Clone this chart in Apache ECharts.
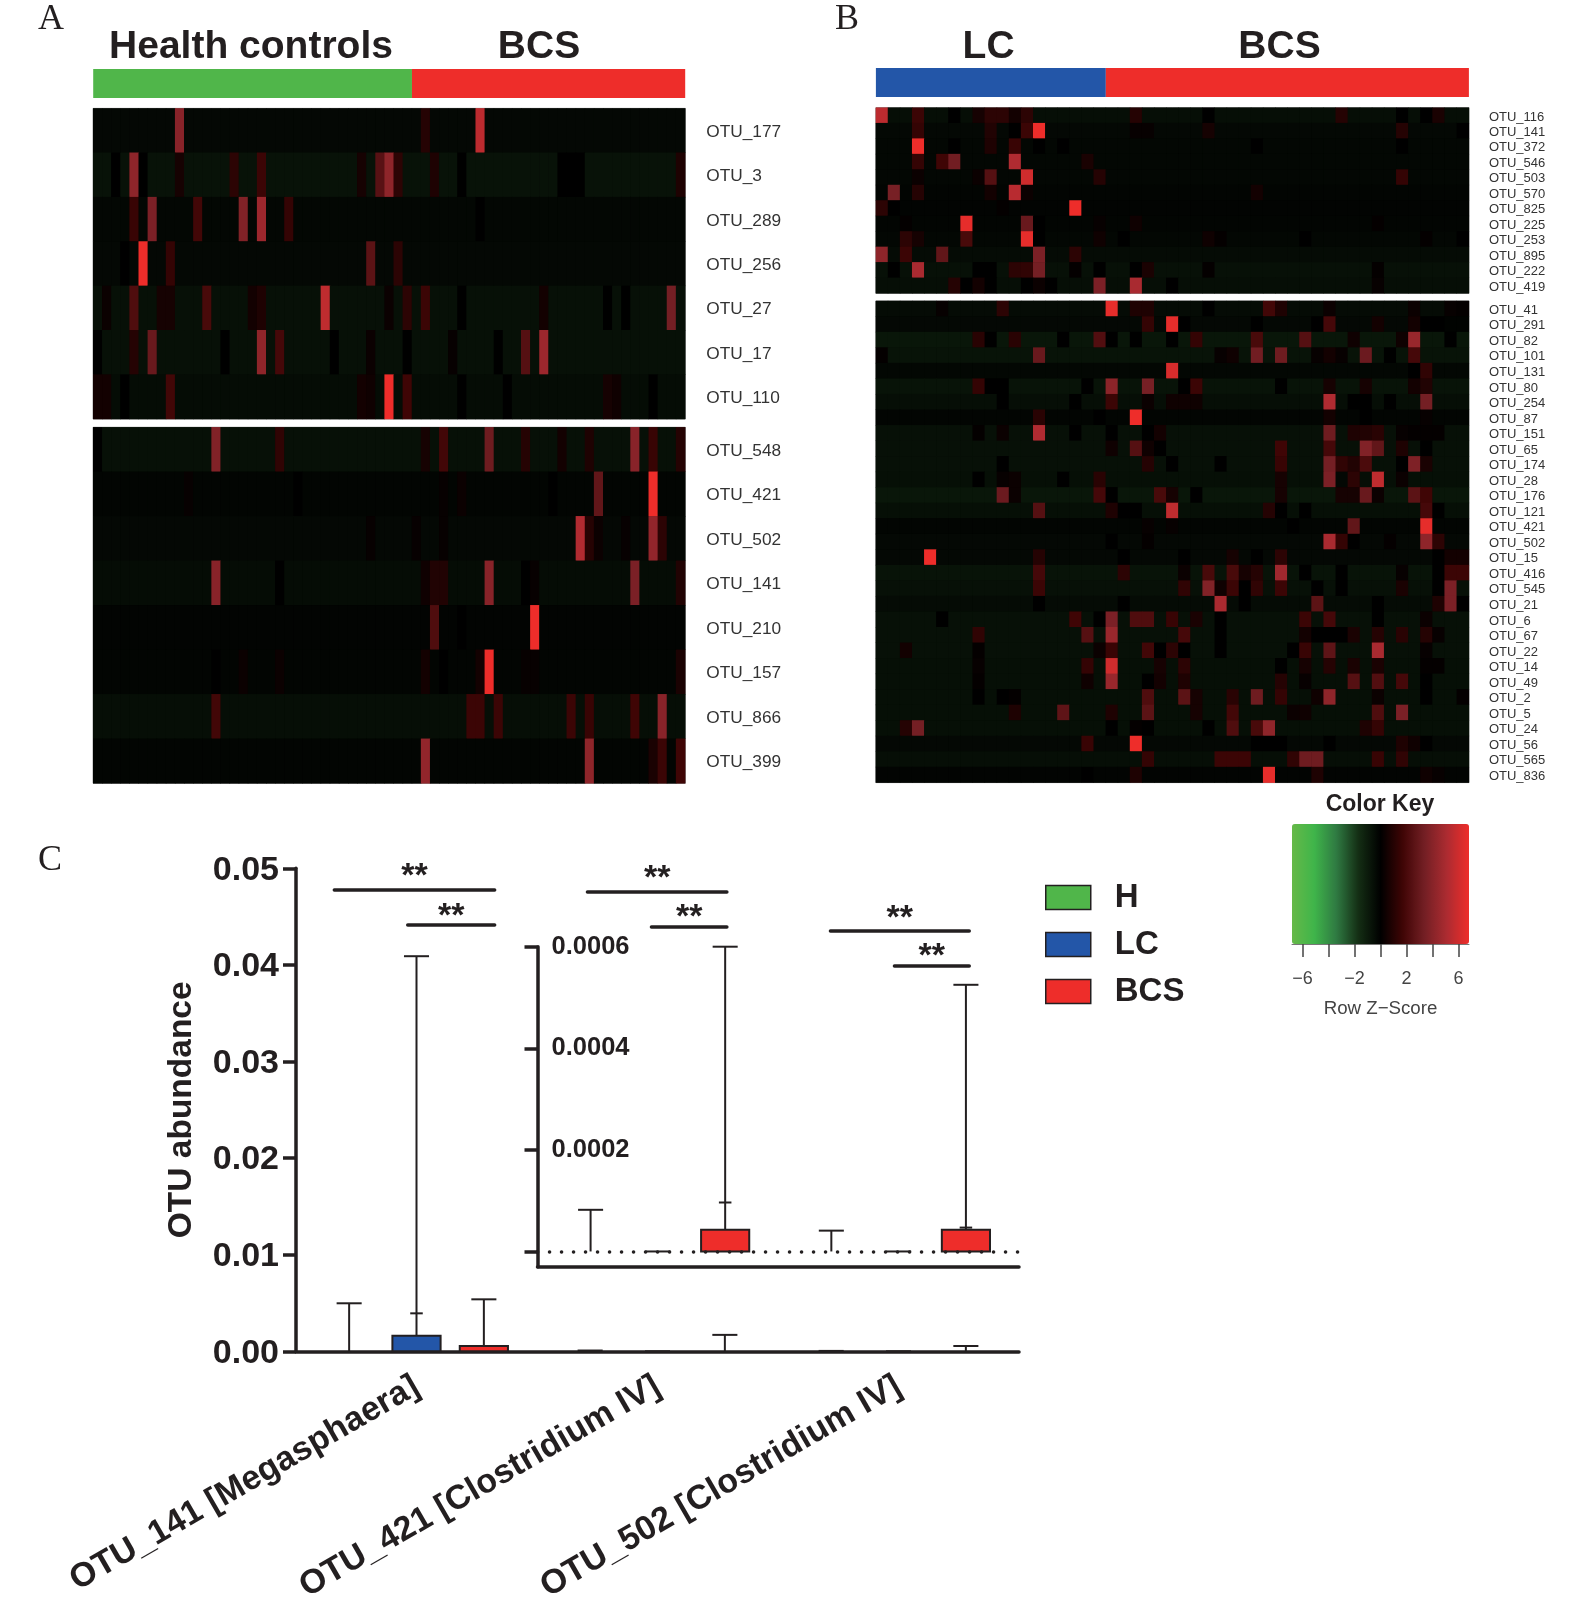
<!DOCTYPE html>
<html>
<head>
<meta charset="utf-8">
<style>
  html, body { margin: 0; background: #fff; }
  #chart { width: 1583px; height: 1606px; }
</style>
<script src="https://cdn.jsdelivr.net/npm/echarts@6/dist/echarts.min.js"></script>
</head>
<body>
<div id="chart"></div>
<script>
// row z-scores: one background level per row, then the cells that differ from it as [column, z]
const upperALabels = ['OTU_177', 'OTU_3', 'OTU_289', 'OTU_256', 'OTU_27', 'OTU_17', 'OTU_110'];
const upperABase = [-0.3, -0.65, -0.25, -0.3, -0.6, -0.6, -0.45];
const upperACells = [
  [[9,4],[36,1],[42,5.5]],
  [[4,4.2],[31,2.5],[32,4.2],[2,0],[5,0],[15,1.2],[18,1.6],[9,0.6],[29,0.6],[33,1.2],[37,0.8],[40,0],[51,0],[52,0],[53,0],[64,0.8]],
  [[4,1.5],[6,3.6],[11,1.8],[16,3.8],[18,4.6],[21,1.4],[42,0]],
  [[5,6.8],[8,1.4],[30,2.6],[33,1.2],[3,0]],
  [[4,2.2],[12,2],[25,5.6],[36,1.6],[34,1.2],[63,3.4],[7,0.6],[8,0.6],[17,0.5],[18,0.8],[32,0.3],[40,0],[49,0.5],[56,0],[58,0],[1,0.3]],
  [[6,3],[4,1],[18,4.2],[20,1.9],[47,2.4],[49,4.6],[14,0],[26,0],[44,0],[39,0.2],[30,0.3],[34,0],[0,0]],
  [[8,1.8],[32,6.8],[34,1.7],[0,0.5],[1,0.5],[29,0.5],[30,0.4],[56,0.6],[57,0.4],[40,0],[61,0],[3,0],[45,0]]
];
const lowerALabels = ['OTU_548', 'OTU_421', 'OTU_502', 'OTU_141', 'OTU_210', 'OTU_157', 'OTU_866', 'OTU_399'];
const lowerABase = [-0.6, -0.2, -0.3, -0.45, -0.15, -0.2, -0.5, -0.2];
const lowerACells = [
  [[13,3.8],[20,1.3],[36,0.6],[38,1.8],[43,3.2],[47,1],[51,0.5],[54,0.8],[59,4],[61,1.5],[64,1],[0,0]],
  [[10,0.2],[22,0],[38,0.2],[40,0.3],[55,2.8],[61,6.8],[50,0]],
  [[53,5.2],[54,1],[55,0.3],[61,4.3],[62,1.2],[30,0.2],[35,0.2],[38,0.2],[58,0.2]],
  [[13,4],[20,0],[36,0.4],[37,0.9],[38,0.9],[43,4],[47,0],[48,0.2],[59,3.6],[64,0.9]],
  [[37,2.2],[48,6.8],[40,0]],
  [[43,6.8],[36,0.5],[42,0.5],[16,0.3],[20,0.3],[13,0],[38,0],[47,0.2],[48,0.2],[64,0.7]],
  [[13,1.8],[41,1.6],[42,1.6],[44,1.6],[52,1.6],[54,1.5],[59,1.7],[62,4]],
  [[36,4.3],[54,4.2],[61,0.7],[62,1.6],[64,1.7]]
];
const upperBLabels = ['OTU_116', 'OTU_141', 'OTU_372', 'OTU_546', 'OTU_503', 'OTU_570', 'OTU_825', 'OTU_225', 'OTU_253', 'OTU_895', 'OTU_222', 'OTU_419'];
const upperBBase = [-0.5, -0.3, -0.25, -0.25, -0.25, -0.2, -0.15, -0.2, -0.25, -0.4, -0.6, -0.5];
const upperBCells = [
  [[0,5.5],[3,1.6],[9,1.2],[10,1.2],[8,0.6],[6,0],[11,0.5],[12,1.2],[21,1],[27,0],[38,1],[43,0],[46,0.7],[45,0]],
  [[13,6.8],[3,1.4],[9,0.9],[11,0],[12,1.6],[27,0.6],[21,0.2],[22,0.2],[43,1],[48,0]],
  [[3,6.8],[9,0.8],[11,1.5],[6,0],[13,0],[15,0],[31,0],[43,0]],
  [[3,1.4],[5,1.7],[6,3.3],[11,5.2],[17,0.7]],
  [[3,0.3],[8,0.3],[9,2.4],[12,6],[18,1],[43,1.4]],
  [[1,3.5],[3,1],[9,0.5],[11,5.4],[12,0.3],[31,0.5]],
  [[0,1.2],[1,0],[10,0.1],[16,6.8]],
  [[7,6.6],[12,3],[13,0],[2,0.1],[18,0.2],[21,0.4],[41,0.1]],
  [[2,1.2],[3,0.6],[7,2],[12,6.6],[13,0],[18,0.4],[20,0],[27,0.4],[28,0.1],[35,0],[48,0],[45,0.1]],
  [[0,4.2],[2,1.6],[5,2.8],[13,3.6],[16,1.2]],
  [[1,0],[3,5],[8,0],[9,0],[11,1.2],[12,1.3],[13,3.4],[16,0.1],[18,0],[21,0],[22,0.7],[27,0.1],[41,0.1]],
  [[6,1],[7,0],[8,0.5],[9,0],[12,0],[13,0.3],[14,0],[18,3.6],[21,5],[24,0],[41,0.2]]
];
const lowerBLabels = ['OTU_41', 'OTU_291', 'OTU_82', 'OTU_101', 'OTU_131', 'OTU_80', 'OTU_254', 'OTU_87', 'OTU_151', 'OTU_65', 'OTU_174', 'OTU_28', 'OTU_176', 'OTU_121', 'OTU_421', 'OTU_502', 'OTU_15', 'OTU_416', 'OTU_545', 'OTU_21', 'OTU_6', 'OTU_67', 'OTU_22', 'OTU_14', 'OTU_49', 'OTU_2', 'OTU_5', 'OTU_24', 'OTU_56', 'OTU_565', 'OTU_836'];
const lowerBBase = [-0.4, -0.3, -0.8, -0.7, -0.25, -0.7, -0.5, -0.2, -0.6, -0.6, -0.6, -0.55, -0.8, -0.55, -0.2, -0.3, -0.3, -0.7, -0.6, -0.4, -0.6, -0.6, -0.6, -0.55, -0.55, -0.55, -0.55, -0.55, -0.3, -0.5, -0.15];
const lowerBCells = [
  [[19,6.6],[10,1.2],[5,0.2],[21,0.8],[22,0.8],[32,1.8],[33,0.8],[27,0],[37,0.3],[44,0.3],[47,0.2],[48,0.1]],
  [[22,1.4],[24,6.6],[31,0],[37,1.9],[36,0],[25,0],[41,0.5],[44,0.5],[45,0],[46,0],[47,-0.1],[48,-0.1]],
  [[8,1.1],[9,0],[11,1.1],[15,0],[18,2.3],[19,0],[21,0],[24,0],[26,1.4],[31,2],[35,2.4],[44,4.5],[43,0.4],[39,0.4],[47,0]],
  [[13,3],[31,3.3],[33,3.2],[40,3.1],[44,1.9],[28,0.2],[29,0.4],[36,0.2],[37,0.5],[38,0.2],[42,0],[0,0.1]],
  [[24,6.2],[45,1.3],[44,0]],
  [[8,1.4],[17,0],[19,4.1],[22,3.5],[26,1.6],[25,0],[33,0],[37,0.6],[40,0.6],[44,0.5],[45,0.9],[9,0],[10,0]],
  [[19,1.6],[37,5.2],[45,3.4],[16,0],[10,0],[22,0.3],[24,0.4],[25,0.4],[26,0.4],[39,0],[40,0],[42,0]],
  [[13,1.1],[21,6.8],[18,0],[37,0.5],[40,0],[45,0.2]],
  [[13,5.2],[8,0.1],[10,0.3],[16,0],[19,0],[23,0.5],[22,0],[37,3.2],[39,0.8],[40,0.9],[41,1.1],[43,0.2],[44,0.1],[45,0.1],[46,0.1]],
  [[19,0.4],[21,2.4],[22,0.4],[23,0],[33,1.7],[37,1.9],[40,3.8],[41,2.8],[43,0.8],[45,0]],
  [[10,0],[22,1],[24,0],[28,0],[33,1.5],[37,3.4],[38,1.3],[39,0.9],[40,2.1],[44,3.7],[45,0.7],[43,0]],
  [[8,0],[10,0.2],[11,0.3],[15,0],[18,1.1],[33,0.6],[37,3.6],[39,1.2],[41,5.6],[38,-0.3],[40,-0.5],[43,0.3]],
  [[10,3.1],[11,0.3],[18,1.9],[19,0],[23,2],[24,0.6],[26,0],[33,0.6],[38,0.6],[39,0.6],[40,3],[41,0.3],[44,2.6],[45,1.7]],
  [[13,2.4],[19,0.8],[24,5.6],[32,1],[20,0],[21,0],[33,0],[35,0],[45,1.9],[46,0]],
  [[39,2.8],[45,6.6],[22,0.2],[24,0.2],[34,0]],
  [[37,5],[38,1.4],[39,0],[45,4.2],[46,1.2],[19,0],[22,0.1],[42,0.1]],
  [[4,6.8],[13,1],[20,0],[33,1.2],[25,0],[29,0.6],[31,0],[46,0],[47,0.5],[48,0.5]],
  [[13,1.9],[20,1.2],[25,0.3],[27,2],[29,2],[30,0.6],[31,1],[33,4.7],[35,0],[38,0],[43,0.2],[46,0],[47,1.6],[48,1.6]],
  [[13,1.6],[25,1.3],[27,3.8],[28,0.4],[29,1.6],[30,0],[31,1.3],[33,1.6],[36,0],[38,0],[43,0.7],[46,0],[47,3.6]],
  [[28,5],[36,2.6],[13,0],[20,0],[30,0],[41,0],[46,0.8],[47,3.6],[48,0]],
  [[5,0],[16,1.7],[19,3.6],[21,2.2],[22,2.2],[24,1.5],[26,0.7],[28,0],[35,1.6],[37,1.9],[41,0],[45,0.3],[18,0]],
  [[8,1.3],[17,2.4],[19,4.5],[25,1.9],[28,0],[35,0.5],[36,0],[37,0],[38,0],[39,0.7],[41,1],[43,1.1],[45,1],[46,0.2]],
  [[2,0.5],[8,0.1],[18,0.3],[19,1.5],[22,1.8],[23,0],[24,1.2],[25,0],[28,0],[35,1.5],[37,2.7],[41,5],[34,0],[45,0.2]],
  [[8,0.2],[17,1.4],[19,6],[23,0.6],[25,1.2],[33,0],[35,0.6],[37,1],[39,0.7],[41,0.7],[45,0.1],[46,0.1]],
  [[8,0.1],[17,0.4],[19,4.5],[22,0],[23,0.5],[25,0.8],[33,1],[35,0.2],[39,2.4],[41,2.3],[43,1.9],[45,0]],
  [[8,0],[10,0],[11,0.1],[22,2.2],[25,2.6],[26,0.6],[29,1.1],[31,3.2],[33,1.4],[37,4.2],[36,0.4],[41,0.3],[45,0],[48,0.1]],
  [[11,0.8],[15,2.7],[19,0.8],[22,2.6],[26,0.6],[29,1.8],[34,0.3],[35,0.4],[41,2.2],[43,3.6]],
  [[2,1],[3,3.4],[19,0],[21,0.1],[22,0],[27,0],[29,2.2],[31,2],[32,4.2],[40,0.8],[41,1.4]],
  [[17,1.5],[21,6.8],[31,0],[32,0],[33,0],[37,0],[43,0.8],[44,0.4],[45,0]],
  [[22,1.4],[28,1.6],[29,1.6],[30,1.6],[34,1.3],[35,3.2],[36,3.2],[41,1.5],[43,1.3]],
  [[32,6.6],[21,0.8],[36,0.8],[17,0],[45,0.4],[46,0.2]]
];

const columnsA = 65, healthColumns = 35, bcsColumnsA = 30;
const columnsB = 49, lcColumns = 19, bcsColumnsB = 30;

// box plot panel
const otuNames = ['OTU_141 [Megasphaera]', 'OTU_421 [Clostridium IV]', 'OTU_502 [Clostridium IV]'];
const groups = ['H', 'LC', 'BCS'];
const mainBoxTops = [[0, 0, 0], [0.0016, 0, 0], [0.00055, 0.00004, 0.00004]];
const mainWhiskers = [[0.00497, 0.00008, 0.00004], [0.0409, 0, 0], [0.00538, 0.0017, 0.00055]];
const mainInnerCaps = [[null, null, null], [0.00393, null, null], [null, null, null]];
const insetBoxTops = [[0, 0], [0, 0], [0.0000427, 0.0000427]];
const insetWhiskers = [[0.000082, 0.000041], [0, 0], [0.0006, 0.000525]];
const insetInnerCaps = [[null, null], [null, null], [0.0000964, 0.000047]];
const sigGroup = [0, 0, 1, 1, 2, 2];
const sigFrom = [-1.22, -0.13, -1.04, -0.09, -1.01, -0.06];
const sigTo = [1.16, 1.16, 1.03, 1.03, 1.05, 1.05];
const sigLevel = [0.04775, 0.04413, 0.04755, 0.04393, 0.04351, 0.03989];
const keyTicks = [-6, -4, -2, 0, 2, 4, 6];
const keyLabels = [-6, -2, 2, 6];

const GREEN = '#50b64a', RED = '#ee2d2a', BLUE = '#2356a8', INK = '#231f20';
const FONT = '"Liberation Sans", Arial, sans-serif';
const SLOT = 0.2795; // distance between boxes inside a group, as a part of the band
const STAR_RISE = [13, 8, 13, 9, 12, 9];

function expandRows(base, cells, columns) {
  const out = [];
  base.forEach((level, r) => {
    const over = new Map(cells[r]);
    for (let c = 0; c < columns; c++) {
      out.push([c, r, over.has(c) ? over.get(c) : level]);
    }
  });
  return out;
}

const grid = [], xAxis = [], yAxis = [], series = [];

function addHeat(left, top, width, height, labels, base, cells, columns, fontSize, margin) {
  const i = grid.length;
  grid.push({ left, top, width, height, show: true, borderColor: '#8a8a8a', borderWidth: 1, backgroundColor: '#000' });
  xAxis.push({ type: 'category', gridIndex: i, show: false, data: Array.from({ length: columns }, (_, c) => c) });
  yAxis.push({
    type: 'category', gridIndex: i, position: 'right', inverse: true, data: labels,
    axisLine: { show: false }, axisTick: { show: false },
    // top anchor with a tiny line box sets the label a little under the row centre
    axisLabel: { interval: 0, margin, verticalAlign: 'top', lineHeight: 3, fontSize, fontFamily: FONT, color: '#333' }
  });
  series.push({
    type: 'heatmap', xAxisIndex: i, yAxisIndex: i, data: expandRows(base, cells, columns),
    progressive: 0, itemStyle: { borderWidth: 0 }, emphasis: { disabled: true }
  });
}

addHeat(93.2, 108.4, 592, 310.6, upperALabels, upperABase, upperACells, columnsA, 17.3, 21);
addHeat(93.2, 427.3, 592, 356, lowerALabels, lowerABase, lowerACells, columnsA, 17.3, 21);
addHeat(875.9, 107.7, 593, 185.6, upperBLabels, upperBBase, upperBCells, columnsB, 13, 20);
addHeat(875.9, 301, 593, 481.6, lowerBLabels, lowerBBase, lowerBCells, columnsB, 13, 20);

function addGroupBar(left, top, width, height, total, parts) {
  const i = grid.length;
  grid.push({ left, top, width, height });
  xAxis.push({ type: 'value', gridIndex: i, show: false, min: 0, max: total });
  yAxis.push({ type: 'category', gridIndex: i, show: false, data: ['group'] });
  parts.forEach(([name, value, color]) => {
    series.push({
      type: 'bar', name, stack: 'g' + i, xAxisIndex: i, yAxisIndex: i, barWidth: '100%',
      data: [value], itemStyle: { color }, silent: true
    });
  });
}

addGroupBar(93.2, 69, 592, 29, columnsA, [['Health controls', healthColumns, GREEN], ['BCS', bcsColumnsA, RED]]);
addGroupBar(875.9, 68, 593, 29, columnsB, [['LC', lcColumns, BLUE], ['BCS', bcsColumnsB, RED]]);

// floating box, whisker with end cap, and the extra short cap where there is one
function renderBox(slot) {
  return function (params, api) {
    const cat = api.value(0);
    const zero = api.coord([cat, 0]);
    const band = api.size([1, 0])[0];
    const cx = zero[0] + slot * SLOT * band;
    const boxTop = api.coord([cat, api.value(1)])[1];
    const whiskerTop = api.coord([cat, api.value(2)])[1];
    const inner = api.value(3);
    const capHalf = band * 0.052;
    const boxHalf = band * 0.1;
    const line = { stroke: INK, lineWidth: 2 };
    const children = [
      { type: 'line', shape: { x1: cx, y1: zero[1], x2: cx, y2: whiskerTop }, style: line },
      { type: 'line', shape: { x1: cx - capHalf, y1: whiskerTop, x2: cx + capHalf, y2: whiskerTop }, style: line }
    ];
    if (inner != null && !isNaN(inner)) {
      const y = api.coord([cat, inner])[1];
      children.push({ type: 'line', shape: { x1: cx - capHalf / 2, y1: y, x2: cx + capHalf / 2, y2: y }, style: line });
    }
    if (zero[1] - boxTop > 0.5) {
      children.push({
        type: 'rect',
        shape: { x: cx - boxHalf, y: boxTop, width: boxHalf * 2, height: zero[1] - boxTop },
        style: { fill: api.visual('color'), stroke: INK, lineWidth: 2 }
      });
    }
    return { type: 'group', children };
  };
}

function addBoxGroups(axisIndex, boxTops, whiskers, innerCaps) {
  groups.forEach((name, g) => {
    series.push({
      type: 'custom', name, xAxisIndex: axisIndex, yAxisIndex: axisIndex, clip: false, z: 4,
      renderItem: renderBox(g - 1), itemStyle: { color: [GREEN, BLUE, RED][g] }, silent: true,
      encode: { x: 0, y: [1, 2, 3] },
      data: boxTops[g].map((v, c) => [c, v, whiskers[g][c], innerCaps[g][c] == null ? '-' : innerCaps[g][c]])
    });
  });
}

// main axes
const mainIndex = grid.length;
grid.push({ left: 296, top: 868.3, width: 723, height: 483 });
xAxis.push({
  type: 'category', gridIndex: mainIndex, data: otuNames,
  axisLine: { lineStyle: { color: INK, width: 3.5 } },
  axisTick: { alignWithLabel: true, length: 14, lineStyle: { color: INK, width: 3.5 } },
  axisLabel: { interval: 0, rotate: 30, margin: 33, fontSize: 34, fontWeight: 'bold', fontFamily: FONT, color: INK }
});
yAxis.push({
  type: 'value', gridIndex: mainIndex, min: 0, max: 0.05, interval: 0.01,
  name: 'OTU abundance', nameLocation: 'middle', nameGap: 97,
  nameTextStyle: { fontSize: 33.5, fontWeight: 'bold', fontFamily: FONT, color: INK },
  splitLine: { show: false },
  axisLine: { show: true, lineStyle: { color: INK, width: 3.5 } },
  axisTick: { show: true, length: 13, lineStyle: { color: INK, width: 3.5 } },
  axisLabel: { margin: 17, verticalAlign: 'top', lineHeight: 4, fontSize: 34, fontWeight: 'bold', fontFamily: FONT, color: INK, formatter: v => v.toFixed(2) }
});
addBoxGroups(mainIndex, mainBoxTops, mainWhiskers, mainInnerCaps);

// inset axes, the zoomed-in view of the two small OTUs
const insetIndex = grid.length;
grid.push({ left: 537.5, top: 946.7, width: 481.5, height: 320 });
xAxis.push({
  type: 'category', gridIndex: insetIndex, data: otuNames.slice(1),
  axisLine: { onZero: false, lineStyle: { color: INK, width: 3.5 } },
  axisTick: { alignWithLabel: true, length: 13, lineStyle: { color: INK, width: 3.5 } },
  axisLabel: { show: false }
});
yAxis.push({
  type: 'value', gridIndex: insetIndex, min: -0.00003, max: 0.0006,
  splitLine: { show: false },
  axisLine: { show: true, lineStyle: { color: INK, width: 3.5 } },
  axisTick: { show: true, length: 13, customValues: [0, 0.0002, 0.0004, 0.0006], lineStyle: { color: INK, width: 3.5 } },
  axisLabel: {
    inside: true, margin: 14, fontSize: 25.5, fontWeight: 'bold', fontFamily: FONT, color: INK,
    customValues: [0.0002, 0.0004, 0.0006], formatter: v => v.toFixed(4)
  }
});
addBoxGroups(insetIndex, insetBoxTops, insetWhiskers, insetInnerCaps);
series[series.length - 1].markLine = {
  silent: true, symbol: 'none', label: { show: false }, animation: false,
  lineStyle: { color: INK, width: 3.5, type: [0.1, 11.9], cap: 'round' },
  data: [{ yAxis: 0 }]
};

// significance bars on the main axes
series.push({
  type: 'custom', name: 'significance', xAxisIndex: mainIndex, yAxisIndex: mainIndex, clip: false, silent: true, z: 5,
  encode: { x: 0, y: 3 },
  data: sigGroup.map((g, i) => [g, sigFrom[i], sigTo[i], sigLevel[i]]),
  renderItem(params, api) {
    const p = api.coord([api.value(0), api.value(3)]);
    const band = api.size([1, 0])[0];
    const x1 = p[0] + api.value(1) * SLOT * band;
    const x2 = p[0] + api.value(2) * SLOT * band;
    return {
      type: 'group',
      children: [
        { type: 'line', shape: { x1, y1: p[1], x2, y2: p[1] }, style: { stroke: INK, lineWidth: 3.5, lineCap: 'round' } },
        {
          type: 'text',
          style: {
            text: '**', x: (x1 + x2) / 2, y: p[1] - STAR_RISE[params.dataIndex], align: 'center', verticalAlign: 'middle',
            font: 'bold 34px ' + FONT, fill: INK
          }
        }
      ]
    };
  }
});

// color key axis, the gradient itself is the visualMap bar placed on top of this grid
const keyIndex = grid.length;
grid.push({ left: 1292, top: 824, width: 177, height: 120 });
xAxis.push({
  type: 'value', gridIndex: keyIndex, min: -6.8, max: 6.8, position: 'bottom',
  splitLine: { show: false },
  axisLine: { show: true, onZero: false, lineStyle: { color: '#777', width: 1 } },
  axisTick: { show: true, length: 13, customValues: keyTicks, lineStyle: { color: '#444', width: 1.5 } },
  axisLabel: { margin: 26, fontSize: 18, fontFamily: FONT, color: '#444', customValues: keyLabels, formatter: v => String(v).replace('-', '\u2212') },
  name: 'Row Z\u2212Score', nameLocation: 'middle', nameGap: 55,
  nameTextStyle: { fontSize: 18.7, fontFamily: FONT, color: '#444' }
});
yAxis.push({ type: 'value', gridIndex: keyIndex, show: false, min: 0, max: 1 });

function label(text, left, top, fontSize, fontFamily, fontWeight, align) {
  return { text, left, top, padding: 0, textAlign: align || 'center', textStyle: { fontSize, fontFamily, fontWeight, color: INK } };
}

const option = {
  animation: false,
  backgroundColor: '#fff',
  textStyle: { fontFamily: FONT },
  title: [
    label('A', 38, 2, 36, '"Liberation Serif", serif', 'normal', 'left'),
    label('B', 835, 2, 36, '"Liberation Serif", serif', 'normal', 'left'),
    label('C', 38, 843, 36, '"Liberation Serif", serif', 'normal', 'left'),
    label('Health controls', 251, 28, 39, FONT, 'bold'),
    label('BCS', 539, 28, 39, FONT, 'bold'),
    label('LC', 988.6, 28, 39, FONT, 'bold'),
    label('BCS', 1279.5, 28, 39, FONT, 'bold'),
    label('Color Key', 1380, 793, 23, FONT, 'bold')
  ],
  legend: {
    left: 1045, top: 881, orient: 'vertical', itemWidth: 45, itemHeight: 24, itemGap: 14, icon: 'rect',
    selectedMode: false, padding: 0, data: groups,
    itemStyle: { borderColor: INK, borderWidth: 1.5 },
    textStyle: { fontSize: 33, fontWeight: 'bold', fontFamily: FONT, color: INK, padding: [0, 0, 0, 19] }
  },
  visualMap: {
    type: 'continuous', seriesIndex: [0, 1, 2, 3], dimension: 2, min: -6.8, max: 6.8,
    orient: 'horizontal', left: 1292, top: 824, itemWidth: 120, itemHeight: 177, padding: 0,
    calculable: false, showLabel: false, text: null, hoverLink: false, borderWidth: 0,
    inRange: { color: ['#66b948', '#3fb54a', '#2f7a42', '#142e14', '#000000', '#3f0505', '#741f24', '#ac2b31', '#ee2d2a'] }
  },
  grid, xAxis, yAxis, series
};

const chart = echarts.init(document.getElementById('chart'));
chart.setOption(option);
</script>
</body>
</html>
